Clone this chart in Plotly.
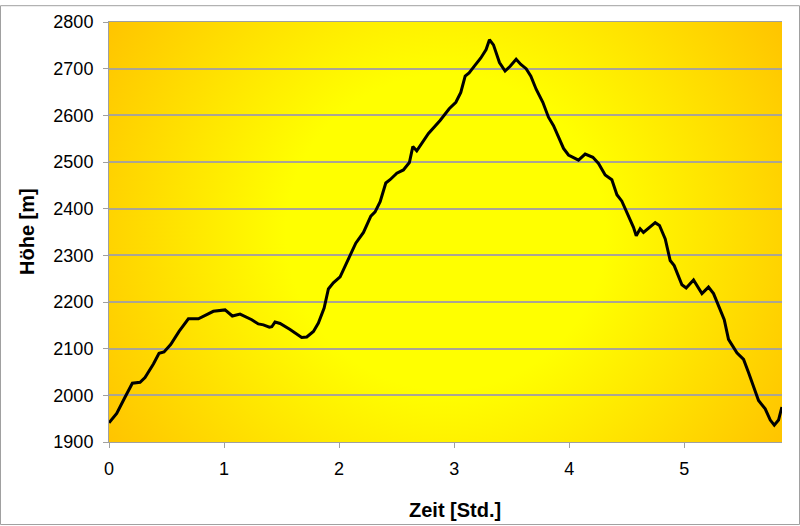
import base64
import plotly.graph_objects as go

# Time in hours
zeit = [0.0, 0.067, 0.139, 0.203, 0.27, 0.313, 0.386, 0.435, 0.478, 0.536, 0.609, 0.69,
        0.777, 0.907, 1.009, 1.072, 1.139, 1.241, 1.298, 1.342, 1.394, 1.415, 1.443, 1.487,
        1.574, 1.675, 1.719, 1.777, 1.82, 1.87, 1.907, 1.95, 2.009, 2.081, 2.145, 2.212,
        2.276, 2.313, 2.357, 2.406, 2.443, 2.502, 2.559, 2.611, 2.641, 2.675, 2.719, 2.777,
        2.878, 2.957, 3.015, 3.058, 3.096, 3.13, 3.174, 3.232, 3.278, 3.307, 3.342, 3.394,
        3.443, 3.487, 3.539, 3.58, 3.626, 3.667, 3.713, 3.771, 3.82, 3.864, 3.907, 3.951,
        3.994, 4.081, 4.139, 4.206, 4.255, 4.313, 4.371, 4.415, 4.458, 4.53, 4.559, 4.583,
        4.617, 4.646, 4.704, 4.748, 4.785, 4.835, 4.878, 4.913, 4.98, 5.017, 5.081, 5.154,
        5.211, 5.255, 5.348, 5.385, 5.458, 5.516, 5.559, 5.603, 5.646, 5.704, 5.748, 5.783,
        5.82, 5.849]

# Altitude in metres
hoehe = [1941, 1961, 1996, 2026, 2028, 2038, 2067, 2090, 2093, 2109, 2137, 2164,
         2164, 2180, 2183, 2170, 2174, 2162, 2153, 2151, 2146, 2147, 2157, 2154,
         2141, 2124, 2125, 2137, 2155, 2187, 2228, 2241, 2254, 2292, 2326, 2349,
         2384, 2393, 2415, 2455, 2462, 2476, 2483, 2499, 2533, 2524, 2541, 2561,
         2589, 2614, 2628, 2649, 2684, 2691, 2705, 2723, 2741, 2762, 2751, 2713,
         2695, 2705, 2720, 2709, 2700, 2684, 2656, 2628, 2596, 2578, 2554, 2529,
         2515, 2504, 2517, 2510, 2497, 2472, 2462, 2430, 2416, 2377, 2360, 2342,
         2357, 2349, 2360, 2370, 2364, 2335, 2289, 2278, 2237, 2230, 2247, 2218,
         2232, 2218, 2162, 2120, 2091, 2077, 2049, 2017, 1989, 1971, 1947, 1936,
         1947, 1975]

x_ticks = [0, 1, 2, 3, 4, 5]
y_ticks = [1900, 2000, 2100, 2200, 2300, 2400, 2500, 2600, 2700, 2800]

W, H = 800, 526
ML, MR, MT, MB = 109, 18, 17, 84
PW, PH = W - ML - MR, H - MT - MB

svg = (
    f'<svg xmlns="http://www.w3.org/2000/svg" width="{PW}" height="{PH}" '
    f'viewBox="0 0 {PW} {PH}" preserveAspectRatio="none"><defs>'
    f'<radialGradient id="g" gradientUnits="userSpaceOnUse" cx="{PW/2}" cy="{PH/2}" '
    f'r="{((PW/2)**2 + (PH/2)**2) ** 0.5:.1f}">'
    '<stop offset="0" stop-color="#FFFF00"/>'
    '<stop offset="0.4" stop-color="#FFFF00"/>'
    '<stop offset="1" stop-color="#FFC400"/>'
    '</radialGradient></defs>'
    f'<rect width="{PW}" height="{PH}" fill="url(#g)"/></svg>'
)
src = "data:image/svg+xml;base64," + base64.b64encode(svg.encode()).decode()

fig = go.Figure()
fig.add_trace(go.Scatter(x=zeit, y=hoehe, mode="lines",
                         line=dict(color="black", width=3), hoverinfo="skip",
                         showlegend=False))

font_family = "Liberation Sans, Arial, sans-serif"
fig.update_layout(
    width=W, height=H,
    margin=dict(l=ML, r=MR, t=MT, b=MB),
    paper_bgcolor="white",
    plot_bgcolor="rgba(0,0,0,0)",
    font=dict(family=font_family, size=18, color="black"),
    images=[dict(source=src, xref="paper", yref="paper", x=0, y=1, sizex=1, sizey=1,
                 xanchor="left", yanchor="top", sizing="stretch", layer="below")],
    xaxis=dict(range=[0, 5.85], tickvals=x_ticks, ticks="outside", ticklen=5,
               tickcolor="#A0A0A0", showline=True, linecolor="#A0A0A0", linewidth=1,
               mirror=True, showgrid=False, zeroline=False, ticklabelstandoff=5),
    yaxis=dict(range=[1900, 2800], tickvals=y_ticks, ticks="outside", ticklen=5,
               tickcolor="#A0A0A0", showline=True, linecolor="#A0A0A0", linewidth=1,
               showgrid=True, gridcolor="#ABA592", gridwidth=1.5, zeroline=False,
               ticklabelstandoff=6),
    annotations=[
        dict(text="<b>Zeit [Std.]</b>", xref="paper", yref="paper",
             x=(455 - ML) / PW, y=-(511 - (MT + PH)) / PH, xanchor="center",
             yanchor="middle", showarrow=False, font=dict(size=20)),
        dict(text="<b>Höhe [m]</b>", xref="paper", yref="paper",
             x=-(ML - 27) / PW, y=0.5, xanchor="center", yanchor="middle",
             textangle=-90, showarrow=False, font=dict(size=20)),
    ],
    shapes=[dict(type="rect", xref="paper", yref="paper",
                 x0=(0.5 - ML) / PW, x1=(W - 0.5 - ML) / PW,
                 y0=-(H - 0.5 - MT - PH) / PH, y1=1 + (MT - 0.5) / PH,
                 line=dict(color="#A0A0A0", width=1), layer="below")],
)

fig.write_html("out.html")
